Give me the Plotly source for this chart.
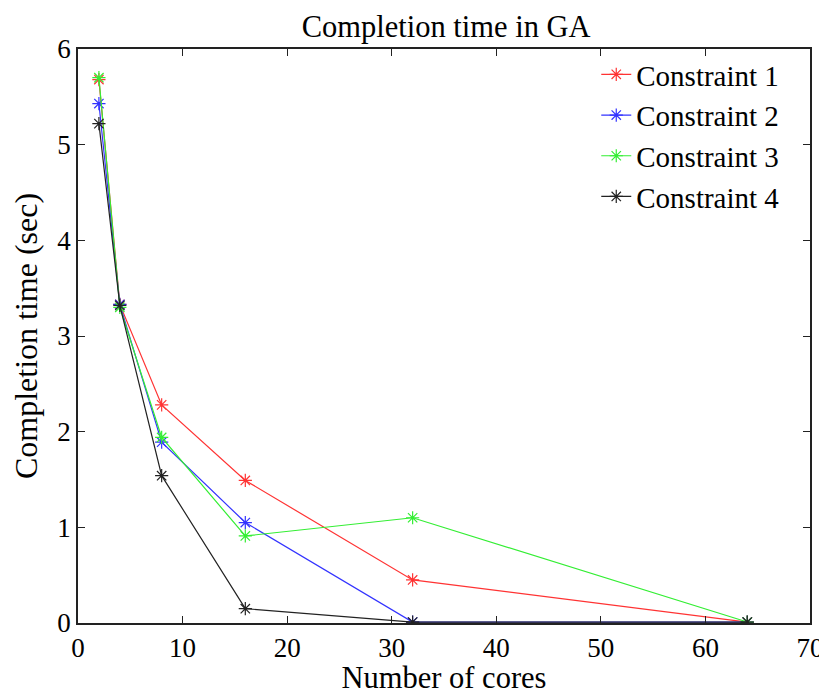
import plotly.graph_objects as go

cores = [2, 4, 8, 16, 32, 64]
c1 = [5.68, 3.33, 2.28, 1.49, 0.45, 0.01]
c2 = [5.43, 3.33, 1.89, 1.05, 0.01, 0.01]
c3 = [5.70, 3.30, 1.94, 0.91, 1.10, 0.01]
c4 = [5.22, 3.32, 1.54, 0.15, 0.01, 0.01]
names = ["Constraint 1", "Constraint 2", "Constraint 3", "Constraint 4"]
colors = ["#ff3333", "#3333ff", "#33ee33", "#222222"]
xticks = [0, 10, 20, 30, 40, 50, 60, 70]
yticks = [0, 1, 2, 3, 4, 5, 6]

fig = go.Figure()
for ys, nm, col in zip([c1, c2, c3, c4], names, colors):
    fig.add_trace(go.Scatter(
        x=cores, y=ys, name=nm, mode="lines+markers",
        line=dict(color=col, width=1.2),
        marker=dict(symbol="asterisk-open", size=11, color=col, line=dict(color=col, width=1.2)),
    ))

font = "Liberation Serif, Times New Roman, serif"
axis_common = dict(
    showline=True, linecolor="#222", linewidth=1.5, mirror="ticks",
    ticks="inside", ticklen=7, tickcolor="#222", showgrid=False, zeroline=False,
    automargin=False,
    tickfont=dict(family=font, size=27, color="black"),
)
# page body has an 8px margin, so the figure is offset by 8px inside the window
fig.update_layout(
    width=819, height=687,
    margin=dict(l=70, r=17, t=41, b=72),
    paper_bgcolor="white", plot_bgcolor="white",
    title=dict(text="Completion time in GA", x=0.535, xanchor="center", y=0.973, yanchor="middle",
               font=dict(family=font, size=30.5, color="black")),
    xaxis=dict(range=[0, 70], tickvals=xticks, ticktext=[str(v) for v in xticks],
               title=dict(text="Number of cores", font=dict(family=font, size=30.5, color="black"), standoff=15),
               **axis_common),
    yaxis=dict(range=[0, 6], tickvals=yticks, ticktext=[str(v) for v in yticks],
               title=dict(text="Completion time (sec)", font=dict(family=font, size=32, color="black"), standoff=12),
               **axis_common),
    legend=dict(x=0.708, y=1.0, xanchor="left", yanchor="top",
                font=dict(family=font, size=29, color="black"),
                bgcolor="rgba(255,255,255,0)", borderwidth=0, tracegroupgap=0),
    showlegend=True,
)
fig.write_html("out.html")
